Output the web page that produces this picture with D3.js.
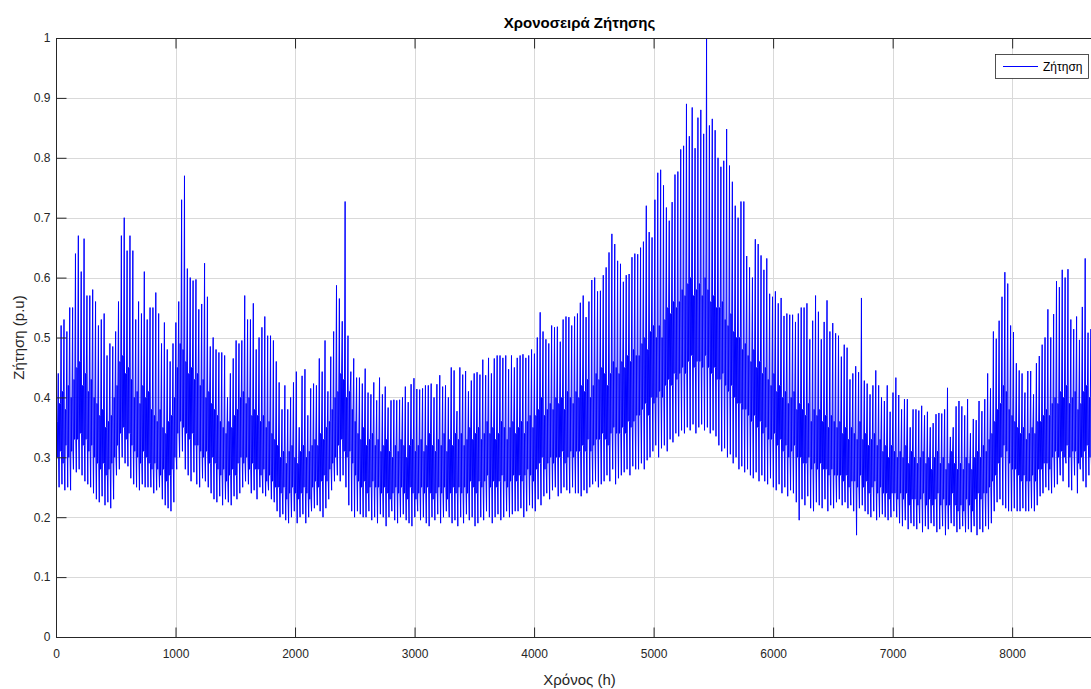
<!DOCTYPE html>
<html><head><meta charset="utf-8">
<script src="https://cdn.jsdelivr.net/npm/d3@7"></script>
<style>
body{margin:0;background:#fff;}
svg{display:block;font-family:"Liberation Sans",Arial,Helvetica,sans-serif;}
</style>
</head><body>
<svg id="chart" width="1091" height="689"></svg>
<script>
// ---- data (hourly demand, one year, p.u.) ----
const xTickValues = [0,1000,2000,3000,4000,5000,6000,7000,8000];
const yTickValues = [0,0.1,0.2,0.3,0.4,0.5,0.6,0.7,0.8,0.9,1];
const hoursInYear = 8760;
const seriesName = "Ζήτηση";

// daily maximum (evening peak) per day
const dailyPeak = [
0.44,0.52,0.53,0.51,0.55,0.55,0.64,0.67,0.61,0.665,
0.57,0.57,0.58,0.56,0.52,0.53,0.54,0.47,0.49,0.485,
0.51,0.56,0.67,0.70,0.645,0.67,0.645,0.53,0.56,0.54,
0.61,0.53,0.55,0.55,0.575,0.54,0.49,0.525,0.48,0.46,
0.49,0.525,0.56,0.73,0.77,0.615,0.60,0.595,0.597,0.547,
0.556,0.624,0.568,0.485,0.50,0.48,0.475,0.475,0.47,0.40,
0.44,0.465,0.495,0.49,0.495,0.57,0.53,0.53,0.557,0.48,
0.50,0.517,0.535,0.503,0.503,0.495,0.46,0.425,0.38,0.42,
0.38,0.40,0.425,0.443,0.35,0.436,0.447,0.37,0.415,0.423,
0.42,0.465,0.443,0.495,0.41,0.468,0.51,0.587,0.565,0.527,
0.727,0.503,0.443,0.465,0.433,0.433,0.423,0.448,0.408,0.405,
0.425,0.395,0.433,0.405,0.418,0.383,0.395,0.396,0.395,0.396,
0.40,0.418,0.392,0.422,0.432,0.414,0.413,0.415,0.42,0.42,
0.423,0.40,0.422,0.437,0.418,0.42,0.40,0.45,0.445,0.377,
0.45,0.438,0.444,0.41,0.428,0.44,0.442,0.438,0.463,0.437,
0.466,0.44,0.465,0.47,0.47,0.466,0.47,0.447,0.47,0.45,
0.466,0.47,0.472,0.466,0.47,0.48,0.473,0.50,0.542,0.51,
0.497,0.49,0.52,0.517,0.518,0.493,0.53,0.535,0.534,0.52,
0.535,0.54,0.558,0.57,0.534,0.56,0.596,0.60,0.577,0.578,
0.604,0.617,0.642,0.673,0.656,0.628,0.623,0.593,0.604,0.606,
0.634,0.64,0.639,0.65,0.66,0.72,0.676,0.667,0.73,0.775,
0.78,0.754,0.717,0.695,0.726,0.772,0.777,0.814,0.82,0.89,
0.836,0.884,0.816,0.867,0.88,0.84,1.0,0.854,0.865,0.846,
0.80,0.785,0.795,0.848,0.787,0.76,0.72,0.70,0.727,0.727,
0.636,0.617,0.60,0.664,0.656,0.637,0.613,0.632,0.573,0.568,
0.577,0.557,0.566,0.536,0.54,0.538,0.538,0.526,0.54,0.55,
0.55,0.557,0.497,0.528,0.57,0.543,0.497,0.526,0.562,0.51,
0.524,0.507,0.503,0.468,0.488,0.483,0.43,0.44,0.452,0.442,
0.566,0.428,0.423,0.405,0.42,0.445,0.42,0.40,0.394,0.42,
0.376,0.408,0.433,0.404,0.38,0.397,0.397,0.35,0.38,0.38,
0.378,0.386,0.37,0.376,0.35,0.357,0.372,0.374,0.373,0.38,
0.416,0.334,0.35,0.385,0.394,0.385,0.37,0.397,0.34,0.364,
0.362,0.394,0.377,0.397,0.44,0.415,0.51,0.498,0.528,0.568,
0.609,0.59,0.52,0.509,0.457,0.445,0.44,0.408,0.444,0.444,
0.405,0.457,0.469,0.488,0.50,0.547,0.50,0.539,0.594,0.584,
0.613,0.60,0.614,0.53,0.514,0.535,0.496,0.551,0.632,0.508,
0.514,0.52,0.55,0.50,0.48
];

// daily minimum (night valley) per day
const dailyLow = [
0.26,0.25,0.255,0.245,0.25,0.245,
0.28,0.275,0.28,0.27,0.26,
0.255,0.25,
0.24,0.23,0.225,0.235,0.22,0.225,0.215,0.23,
0.27,0.28,0.30,0.29,0.285,0.265,
0.255,0.25,0.245,0.255,0.25,0.25,
0.25,0.24,0.245,0.25,
0.23,0.22,0.215,0.21,0.225,
0.28,0.30,0.31,0.28,
0.27,0.26,0.275,0.255,0.25,0.265,0.26,0.25,
0.24,0.23,0.225,0.235,0.22,0.23,0.225,0.22,0.235,0.23,0.24,
0.25,0.26,0.255,0.24,0.245,0.23,0.25,0.24,0.235,0.245,0.23,0.225,
0.21,0.2,0.205,0.195,0.19,0.2,0.21,0.19,0.2,0.205,0.19,0.2,0.21,0.215,0.22,
0.21,0.2,0.215,
0.23,0.245,0.26,0.27,0.26,
0.27,0.25,
0.22,0.21,0.2,0.21,0.205,0.2,
0.2,0.21,0.195,0.2,0.19,0.205,0.2,0.185,0.2,0.21,
0.195,0.19,0.2,0.205,0.195,0.19,0.185,0.2,0.21,0.195,
0.2,0.19,0.185,0.2,0.195,0.205,0.19,0.2,0.21,
0.2,0.19,0.195,0.185,0.2,0.19,0.205,0.195,0.2,0.185,0.19,0.2,0.195,0.21,0.2,0.19,0.2,0.205,0.195,0.2,0.21,0.2,0.205,0.21,
0.21,0.215,0.2,0.21,0.22,0.215,0.21,0.23,
0.22,0.235,0.24,0.23,0.245,0.25,0.235,0.24,0.25,0.245,0.24,0.25,0.24,
0.24,0.235,0.245,0.24,0.25,
0.255,0.26,0.25,0.255,0.26,
0.27,0.26,0.28,0.255,0.265,0.27,0.275,0.28,0.27,0.285,0.28,
0.28,0.29,0.28,0.295,0.3,
0.31,0.32,0.3,0.315,0.32,0.31,
0.33,0.325,0.34,0.335,0.345,0.34,
0.35,0.345,0.355,0.34,0.35,0.355,0.345,0.35,
0.34,0.345,0.335,
0.32,0.31,0.315,0.3,0.305,
0.29,0.3,0.28,0.285,0.275,0.28,
0.27,0.265,0.275,0.26,0.27,0.26,0.255,0.265,
0.25,0.245,0.255,0.24,0.25,0.235,0.245,0.24,
0.225,0.195,0.23,0.22,0.235,0.215,0.21,0.225,0.22,0.215,0.23,0.21,0.22,0.215,0.225,
0.23,0.22,0.225,0.215,0.22,0.21,0.17,0.215,0.22,0.21,
0.205,0.2,0.21,0.195,0.2,0.205,0.2,0.195,0.2,0.21,0.2,
0.19,0.185,0.195,0.18,0.19,0.185,0.18,0.19,0.175,0.185,
0.18,0.19,0.185,0.175,0.18,0.185,0.17,0.18,0.19,0.185,
0.175,0.18,0.185,0.175,
0.18,0.175,0.185,0.17,0.18,0.175,0.185,0.18,0.19,
0.21,0.225,0.23,0.22,0.215,
0.21,0.21,0.215,0.21,0.21,0.215,0.21,0.21,0.215,0.21,0.22,
0.235,0.24,0.25,0.245,0.24,0.25,0.255,
0.27,0.26,0.29,0.25,0.245,0.27,0.24,0.28,0.26,0.25,0.27,
0.27,0.28,0.26,0.27
];

// daily morning level (upper edge of the dense daytime body)
const dailyUpper = [
0.36,0.39,0.41,0.38,0.42,0.40,0.43, 0.45,0.46,0.42,0.44,0.41,0.43,0.40,
0.39,0.37,0.38,0.35,0.36,0.37,0.40, 0.42,0.46,0.47,0.44,0.45,0.43,0.40,
0.41,0.39,0.42,0.40,0.41,0.38,0.37, 0.36,0.38,0.35,0.34,0.36,0.37,0.40,
0.45,0.49,0.48,0.46,0.44,0.45,0.43, 0.44,0.42,0.43,0.40,0.41,0.39,0.38,
0.37,0.36,0.35,0.34,0.36,0.35,0.37, 0.38,0.40,0.41,0.39,0.40,0.37,0.38,
0.37,0.36,0.37,0.35,0.36,0.34,0.33, 0.32,0.30,0.31,0.29,0.31,0.32,0.30,
0.29,0.31,0.32,0.30,0.31,0.32,0.33, 0.32,0.34,0.33,0.35,0.36,0.38,0.40,
0.41,0.44,0.43,0.40,0.41,0.38,0.36, 0.34,0.33,0.35,0.32,0.33,0.34,0.32,
0.33,0.31,0.32,0.33,0.31,0.30,0.32, 0.31,0.33,0.32,0.30,0.32,0.33,0.31,
0.32,0.33,0.31,0.32,0.34,0.32,0.31, 0.33,0.32,0.34,0.31,0.33,0.32,0.34,
0.33,0.34,0.32,0.33,0.35,0.33,0.34, 0.35,0.33,0.34,0.36,0.34,0.35,0.33,
0.34,0.36,0.35,0.33,0.35,0.36,0.34, 0.35,0.36,0.34,0.36,0.37,0.35,0.37,
0.38,0.40,0.37,0.38,0.39,0.38,0.40, 0.39,0.40,0.38,0.41,0.40,0.39,0.41,
0.40,0.42,0.41,0.43,0.40,0.42,0.44, 0.43,0.45,0.44,0.42,0.44,0.46,0.45,
0.44,0.46,0.45,0.47,0.46,0.48,0.47, 0.47,0.49,0.50,0.48,0.51,0.52,0.50,
0.52,0.50,0.53,0.55,0.54,0.56,0.55, 0.56,0.58,0.57,0.59,0.60,0.57,0.58,
0.59,0.57,0.60,0.58,0.56,0.57,0.55, 0.55,0.56,0.53,0.52,0.54,0.51,0.50,
0.50,0.48,0.49,0.47,0.46,0.48,0.45, 0.46,0.44,0.45,0.43,0.42,0.44,0.41,
0.42,0.40,0.41,0.39,0.40,0.41,0.38, 0.39,0.38,0.37,0.39,0.36,0.38,0.37,
0.38,0.36,0.37,0.35,0.37,0.36,0.35, 0.36,0.34,0.35,0.33,0.35,0.34,0.33,
0.36,0.33,0.34,0.32,0.33,0.34,0.32, 0.33,0.31,0.32,0.30,0.32,0.31,0.30,
0.31,0.30,0.32,0.29,0.31,0.30,0.29, 0.30,0.31,0.29,0.30,0.28,0.30,0.31,
0.29,0.30,0.28,0.29,0.31,0.29,0.28, 0.29,0.28,0.30,0.29,0.28,0.30,0.31,
0.30,0.32,0.31,0.33,0.34,0.36,0.38, 0.39,0.42,0.41,0.38,0.37,0.36,0.35,
0.34,0.35,0.33,0.34,0.35,0.34,0.36, 0.36,0.37,0.38,0.37,0.39,0.40,0.39,
0.41,0.40,0.42,0.39,0.40,0.41,0.38, 0.39,0.41,0.42,0.40,0.43,0.41,0.40,
0.40
];

// daily midday level (lower edge of the dense daytime body)
const dailyLower = [
0.30,0.31,0.29,0.32,0.30,0.31,0.33, 0.33,0.34,0.32,0.33,0.31,0.32,0.30,
0.29,0.28,0.29,0.27,0.28,0.29,0.30, 0.32,0.34,0.35,0.33,0.34,0.32,0.31,
0.30,0.29,0.31,0.30,0.29,0.28,0.29, 0.28,0.27,0.28,0.26,0.27,0.28,0.30,
0.34,0.36,0.35,0.34,0.33,0.34,0.32, 0.32,0.31,0.30,0.31,0.29,0.30,0.29,
0.28,0.27,0.28,0.26,0.27,0.28,0.27, 0.29,0.30,0.29,0.30,0.28,0.29,0.28,
0.28,0.27,0.28,0.26,0.27,0.26,0.25, 0.25,0.24,0.25,0.23,0.24,0.25,0.24,
0.23,0.24,0.25,0.24,0.23,0.25,0.26, 0.25,0.26,0.27,0.26,0.28,0.29,0.30,
0.32,0.33,0.31,0.30,0.31,0.29,0.27, 0.26,0.25,0.26,0.24,0.25,0.26,0.25,
0.25,0.24,0.25,0.24,0.23,0.24,0.25, 0.24,0.25,0.24,0.23,0.25,0.24,0.23,
0.24,0.25,0.24,0.25,0.24,0.23,0.24, 0.25,0.24,0.25,0.23,0.24,0.25,0.24,
0.25,0.24,0.25,0.24,0.26,0.25,0.24, 0.26,0.25,0.26,0.27,0.25,0.26,0.25,
0.26,0.27,0.26,0.25,0.26,0.27,0.26, 0.27,0.26,0.27,0.28,0.27,0.26,0.28,
0.29,0.30,0.28,0.29,0.30,0.29,0.30, 0.30,0.31,0.29,0.30,0.31,0.30,0.31,
0.31,0.32,0.31,0.33,0.31,0.32,0.33, 0.33,0.34,0.33,0.32,0.34,0.35,0.34,
0.34,0.35,0.34,0.36,0.35,0.36,0.37, 0.37,0.38,0.39,0.37,0.40,0.39,0.40,
0.41,0.40,0.42,0.43,0.42,0.44,0.43, 0.44,0.45,0.44,0.46,0.47,0.45,0.46,
0.46,0.45,0.47,0.45,0.44,0.45,0.43, 0.43,0.44,0.42,0.41,0.42,0.40,0.39,
0.39,0.38,0.38,0.37,0.36,0.37,0.35, 0.36,0.34,0.35,0.33,0.33,0.34,0.32,
0.33,0.31,0.32,0.30,0.31,0.32,0.30, 0.30,0.29,0.29,0.30,0.28,0.29,0.28,
0.29,0.28,0.28,0.27,0.28,0.27,0.27, 0.27,0.26,0.27,0.25,0.26,0.26,0.25,
0.27,0.25,0.26,0.24,0.25,0.26,0.24, 0.25,0.24,0.24,0.23,0.24,0.24,0.23,
0.24,0.23,0.24,0.22,0.23,0.23,0.22, 0.23,0.24,0.22,0.23,0.22,0.23,0.24,
0.22,0.23,0.22,0.22,0.24,0.22,0.21, 0.22,0.21,0.23,0.22,0.21,0.23,0.24,
0.23,0.24,0.24,0.25,0.26,0.27,0.29, 0.30,0.32,0.31,0.29,0.28,0.28,0.27,
0.26,0.27,0.26,0.26,0.27,0.26,0.28, 0.28,0.29,0.29,0.28,0.30,0.31,0.30,
0.31,0.30,0.32,0.30,0.31,0.31,0.29, 0.30,0.31,0.32,0.30,0.33,0.31,0.30,
0.31
];

// ---- build the series: each day passes through its valley, daytime band and peak ----
const nDays = Math.min(dailyPeak.length, dailyLow.length, dailyUpper.length, dailyLower.length);
const series = [];
for (let d = 0; d < nDays; d++) {
  const h0 = d * 24;
  series.push({h: h0 + 2,  v: dailyLow[d]});
  series.push({h: h0 + 7,  v: dailyUpper[d]});
  series.push({h: h0 + 11, v: dailyLower[d]});
  series.push({h: h0 + 14, v: dailyUpper[d]});
  series.push({h: h0 + 19, v: dailyPeak[d]});
  series.push({h: h0 + 22, v: dailyLower[d]});
}

// ---- layout ----
const svg = d3.select("#chart");
const L = 56, T = 38, R = 1103, B = 637;
const x = d3.scaleLinear().domain([0, hoursInYear]).range([L, R]);
const y = d3.scaleLinear().domain([0, 1]).range([B, T]);

// grid
const grid = svg.append("g");
grid.selectAll("line.vg").data(xTickValues).enter().append("line")
  .attr("x1", d => Math.round(x(d)) + 0.5).attr("x2", d => Math.round(x(d)) + 0.5)
  .attr("y1", T).attr("y2", B)
  .attr("stroke", "#d9d9d9").attr("stroke-width", 1);
grid.selectAll("line.hg").data(yTickValues).enter().append("line")
  .attr("x1", L).attr("x2", R)
  .attr("y1", d => Math.round(y(d)) + 0.5).attr("y2", d => Math.round(y(d)) + 0.5)
  .attr("stroke", "#d9d9d9").attr("stroke-width", 1);

// clip + line
svg.append("defs").append("clipPath").attr("id", "plotclip")
  .append("rect").attr("x", L).attr("y", T - 1).attr("width", R - L).attr("height", B - T + 1);

const line = d3.line().x(p => x(p.h)).y(p => y(p.v));
svg.append("path").datum(series)
  .attr("clip-path", "url(#plotclip)")
  .attr("d", line)
  .attr("fill", "none")
  .attr("stroke", "#0000ff")
  .attr("stroke-width", 1)
  .attr("stroke-linejoin", "miter");

// axes (ticks inward)
const axisColor = "#262626";
const fmtY = d3.format("~g");
const gL = svg.append("g").attr("transform", `translate(${L + 0.5},0)`)
  .call(d3.axisLeft(y).tickValues(yTickValues).tickSizeInner(-10).tickSizeOuter(0).tickPadding(6).tickFormat(fmtY));
const gB = svg.append("g").attr("transform", `translate(0,${B + 0.5})`)
  .call(d3.axisBottom(x).tickValues(xTickValues).tickSizeInner(-10).tickSizeOuter(0).tickPadding(12).tickFormat(d3.format("d")));
const gT = svg.append("g").attr("transform", `translate(0,${T + 0.5})`)
  .call(d3.axisTop(x).tickValues(xTickValues).tickSizeInner(-10).tickSizeOuter(0).tickFormat(""));
[gL, gB, gT].forEach(g => {
  g.select(".domain").remove();
  g.selectAll(".tick line").attr("stroke", axisColor).attr("stroke-width", 1);
  g.selectAll(".tick text").attr("fill", axisColor).attr("font-size", 12)
   .attr("font-family", "'Liberation Sans',Arial,Helvetica,sans-serif");
});

// box
svg.append("rect").attr("x", L + 0.5).attr("y", T + 0.5)
  .attr("width", R - L).attr("height", B - T)
  .attr("fill", "none").attr("stroke", axisColor).attr("stroke-width", 1);

// title and labels
svg.append("text").attr("x", (L + R) / 2).attr("y", 28)
  .attr("text-anchor", "middle").attr("font-size", 15).attr("font-weight", "bold")
  .attr("fill", "#000").text("Χρονοσειρά Ζήτησης");
svg.append("text").attr("x", (L + R) / 2).attr("y", 685)
  .attr("text-anchor", "middle").attr("font-size", 15)
  .attr("fill", axisColor).text("Χρόνος (h)");
svg.append("text").attr("transform", `translate(24,${(T + B) / 2}) rotate(-90)`)
  .attr("text-anchor", "middle").attr("font-size", 15)
  .attr("fill", axisColor).text("Ζήτηση (p.u)");

// legend
const lg = svg.append("g");
lg.append("rect").attr("x", 995.5).attr("y", 54.5).attr("width", 93).attr("height", 24)
  .attr("fill", "#fff").attr("stroke", axisColor).attr("stroke-width", 0.8);
lg.append("line").attr("x1", 1003).attr("x2", 1038).attr("y1", 66.5).attr("y2", 66.5)
  .attr("stroke", "#0000ff").attr("stroke-width", 1);
lg.append("text").attr("x", 1043).attr("y", 71).attr("font-size", 12)
  .attr("fill", "#000").text(seriesName);
</script>
</body></html>
